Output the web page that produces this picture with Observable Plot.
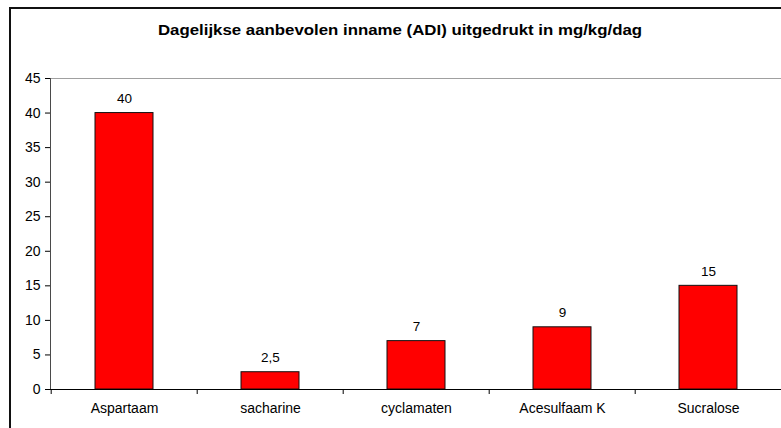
<!DOCTYPE html>
<html>
<head>
<meta charset="utf-8">
<script src="https://cdn.jsdelivr.net/npm/d3@7"></script>
<script src="https://cdn.jsdelivr.net/npm/@observablehq/plot@0.6"></script>
<style>
  html, body { margin: 0; padding: 0; background: #fff; width: 781px; height: 428px; overflow: hidden; }
  #wrap { position: relative; width: 781px; height: 428px; overflow: hidden; }
  #frame { position: absolute; left: 9px; top: 7px; width: 800px; height: 440px; border-left: 2px solid #111; border-top: 2px solid #111; box-sizing: border-box; }
  #title { position: absolute; left: 0; width: 800px; top: 22px; text-align: center; font: bold 14.5px "Liberation Sans", Arial, sans-serif; color: #000; transform: scaleX(1.16); transform-origin: 400px 0; white-space: nowrap; }
  #chart { position: absolute; left: 0; top: 0; width: 800px; }
  #chart svg { max-width: none !important; }
</style>
</head>
<body>
<div id="wrap">
  <div id="frame"></div>
  <div id="chart"></div>
  <div id="title">Dagelijkse aanbevolen inname (ADI) uitgedrukt in mg/kg/dag</div>
</div>
<script>
const categories = ["Aspartaam", "sacharine", "cyclamaten", "Acesulfaam K", "Sucralose"];
const values = [40, 2.5, 7, 9, 15];
const labels = ["40", "2,5", "7", "9", "15"];
const yTicks = [0, 5, 10, 15, 20, 25, 30, 35, 40, 45];

const data = categories.map((c, i) => ({category: c, value: values[i], label: labels[i]}));

const W = 800, H = 428;
const mL = 50, mR = 17, mT = 78, mB = 39;
const bw = (W - mL - mR) / categories.length;

const chart = Plot.plot({
  width: W,
  height: H,
  marginLeft: mL,
  marginRight: mR,
  marginTop: mT,
  marginBottom: mB,
  style: {fontFamily: "'Liberation Sans', Arial, sans-serif", fontSize: "13px", color: "#000", background: "transparent", overflow: "visible", maxWidth: "none"},
  x: {domain: categories, paddingInner: 0.6, paddingOuter: 0.3, align: 0.5, label: null},
  y: {domain: [0, 45], label: null},
  marks: [
    Plot.ruleY([45], {stroke: "#a0a0a0", strokeWidth: 1}),
    Plot.barY(data, {x: "category", y: "value", fill: "#ff0000", stroke: "#111", strokeWidth: 1}),
    Plot.text(data, {x: "category", y: "value", text: "label", lineAnchor: "bottom", dy: -10, fontSize: 13.5, fill: "#000"}),
    Plot.axisY({ticks: yTicks, tickSize: 5, tickPadding: 5, tickFormat: d => String(d), fontSize: 14, stroke: "#000", fill: "#000"}),
    Plot.frame({anchor: "left", stroke: "#4a4a4a"}),
    Plot.ruleY([0], {stroke: "#000", strokeWidth: 1}),
    Plot.ruleX(categories, {x: d => d, dx: -bw / 2, y1: 0, y2: 0, insetBottom: -5, stroke: "#000", strokeWidth: 1}),
    Plot.axisX({tickSize: 0, tickPadding: 14, fontSize: 14, fill: "#000"})
  ]
});
document.getElementById("chart").appendChild(chart);
</script>
</body>
</html>
